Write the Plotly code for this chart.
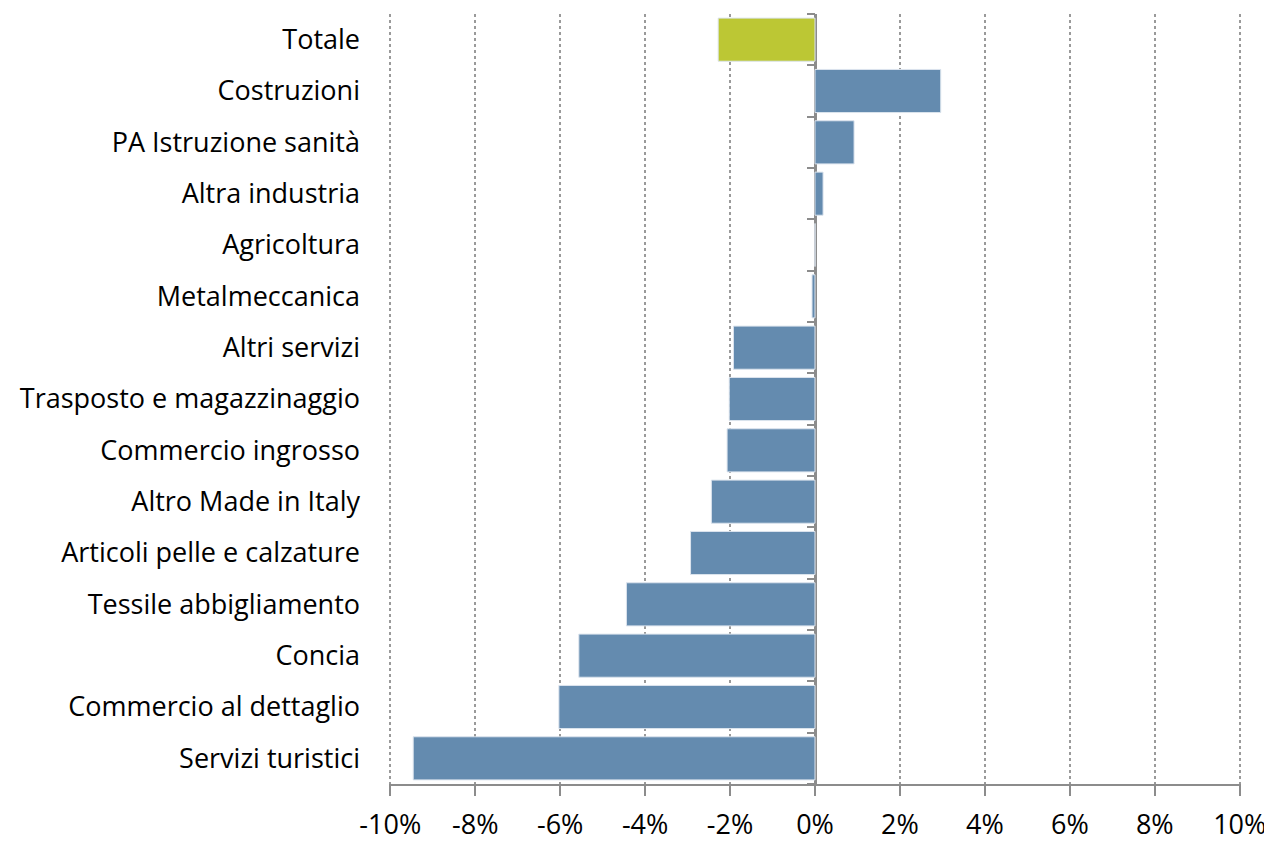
import plotly.graph_objects as go

# settori, dal basso verso l'alto
settori = ["Servizi turistici", "Commercio al dettaglio", "Concia", "Tessile abbigliamento",
           "Articoli pelle e calzature", "Altro Made in Italy", "Commercio ingrosso",
           "Trasposto e magazzinaggio", "Altri servizi", "Metalmeccanica", "Agricoltura",
           "Altra industria", "PA Istruzione sanità", "Costruzioni", "Totale"]
variazione = [-9.46, -6.03, -5.56, -4.44, -2.93, -2.44, -2.07, -2.02, -1.92, -0.07, 0.0,
              0.19, 0.92, 2.96, -2.28]
tick_x = [-10, -8, -6, -4, -2, 0, 2, 4, 6, 8, 10]
tick_lbl = [f"{t}%" for t in tick_x]

blu = "#648BAF"
verde = "#BCC734"
colori = [verde if s == "Totale" else blu for s in settori]

fig = go.Figure()
fig.add_trace(go.Bar(
    x=variazione, y=settori, orientation="h",
    marker=dict(color=colori, line=dict(color="#DCE4EE", width=1)),
    width=0.84, showlegend=False, hoverinfo="x+y",
))
# asse secondario solo per i trattini sulla linea dello zero
fig.add_trace(go.Bar(x=[None] * len(settori), y=settori, orientation="h",
                     yaxis="y2", showlegend=False, hoverinfo="skip"))

# la pagina html ha 8px di margine sul body -> figura un po' piu' piccola
fig.update_layout(
    width=1264, height=833,
    margin=dict(l=381, r=31, t=6, b=57),
    plot_bgcolor="white", paper_bgcolor="white",
    font=dict(family="'Open Sans', Lato, sans-serif", size=27, color="#000000"),
    xaxis=dict(
        range=[-10.03, 10.03], tickvals=tick_x, ticktext=tick_lbl,
        showgrid=True, gridcolor="#9a9a9a", griddash="dot", gridwidth=2,
        showline=True, linecolor="#8c8c8c", linewidth=2,
        ticks="outside", ticklen=10, tickwidth=2, tickcolor="#8c8c8c",
        zeroline=True, zerolinecolor="#8c8c8c", zerolinewidth=3,
        ticklabelstandoff=6, automargin=False, fixedrange=True,
    ),
    yaxis=dict(
        categoryorder="array", categoryarray=settori,
        showline=False, showgrid=False, ticks="",
        ticklabelstandoff=28, automargin=False, fixedrange=True,
    ),
    yaxis2=dict(
        overlaying="y", anchor="free", position=0.5, side="left",
        categoryorder="array", categoryarray=settori,
        showticklabels=False, showline=False, showgrid=False,
        ticks="outside", tickson="boundaries", ticklen=8, tickwidth=2,
        tickcolor="#8c8c8c", automargin=False, fixedrange=True,
    ),
)

fig.write_html("out.html")
